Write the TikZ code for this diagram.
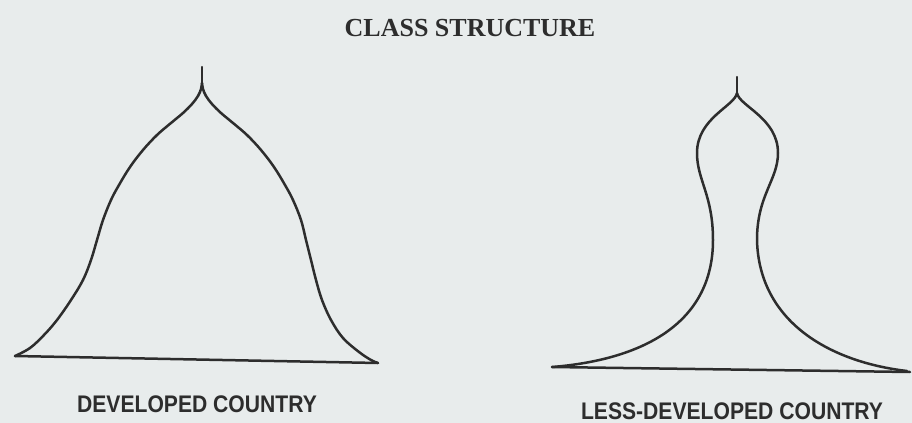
\documentclass[tikz,border=0pt]{standalone}
\usepackage{fontspec}
\usepackage{graphicx}
\setmainfont{Liberation Serif}
\setsansfont{Liberation Sans}
\usetikzlibrary{positioning}
\definecolor{paper}{RGB}{232,236,236}
\definecolor{ink}{RGB}{45,45,45}

\begin{document}
\begin{tikzpicture}[x=0.5pt,y=-0.5pt,line join=round,line cap=round,
  outline/.style={ink,line width=1.25pt},
  caption/.style={ink,anchor=base,font=\sffamily\bfseries\fontsize{12}{14}\selectfont}]
\fill[paper] (0,0) rectangle (912,423);
\useasboundingbox (0,0) rectangle (912,423);
% developed country
\draw[outline] (202,67)--(202,83);
\draw[outline] plot[smooth,tension=0.6] coordinates {(202,83) (201,89) (198,96) (192,104) (183,113) (171,123) (157,135) (143,150) (130,167) (119,185) (111,200) (103,220) (97,240) (91,260) (83,280) (71,300) (57,320) (44,335) (30,348) (15,356)};
\draw[outline] plot[smooth,tension=0.6] coordinates {(202,83) (203,89) (206,96) (212,104) (221,113) (233,123) (247,135) (261,150) (274,167) (285,185) (293,200) (301,220) (306,240) (311,260) (316,280) (322,300) (331,320) (343,338) (359,352) (371,360) (378,363)};
\draw[outline] (15,356)--(378,363);
% less-developed country
\draw[outline] (737,77)--(737,93);
\draw[outline] (737,93) .. controls (735,106) and (697,118) .. (697,153)
  .. controls (697,180) and (713,195) .. (713,240)
  .. controls (713,325) and (640,360) .. (552,367);
\draw[outline] (737,93) .. controls (739,106) and (778,118) .. (778,153)
  .. controls (778,180) and (757,195) .. (757,240)
  .. controls (759,322) and (830,362) .. (907,371);
\draw[outline] (552,367)--(910,372);
\node[ink,anchor=base,font=\bfseries\fontsize{13}{15}\selectfont] (title) at (470,36) {CLASS STRUCTURE};
\node[caption] (devlabel) at (197,412) {\scalebox{0.88}[1]{DEVELOPED COUNTRY}};
\node[caption] (lesslabel) at (732,419) {\scalebox{0.88}[1]{LESS-DEVELOPED COUNTRY}};
\end{tikzpicture}
\end{document}
